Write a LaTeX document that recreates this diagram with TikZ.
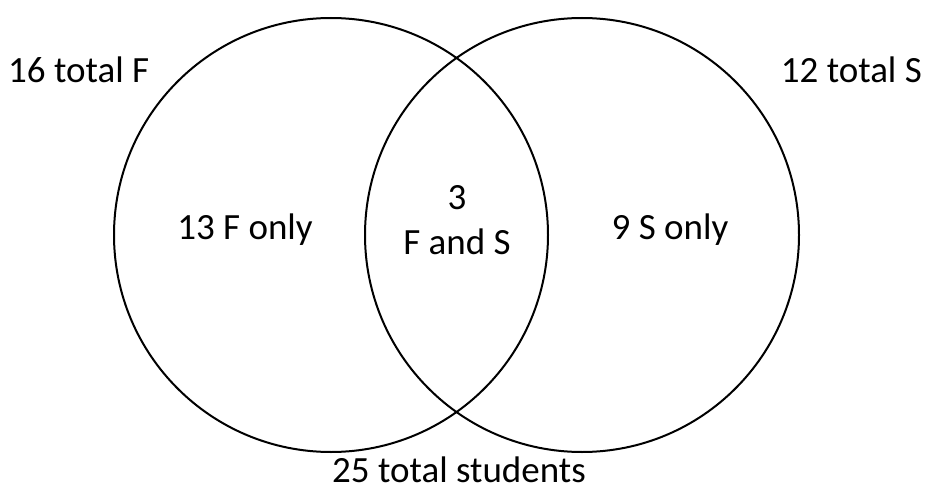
\documentclass[tikz,border=0pt]{standalone}
\usepackage{fontspec}
\setmainfont{Carlito}
\begin{document}
\begin{tikzpicture}[x=1pt,y=-1pt,
  lbl/.style={inner sep=0pt,font=\fontsize{37}{45}\selectfont},
  ring/.style={draw=black,line width=2pt}]
\useasboundingbox (0,0) rectangle (927,495);
\draw[ring] (331,235) circle (217);
\draw[ring] (582,235) circle (217);
\node[lbl,anchor=west] (tf) at (8,70) {16 total F};
\node[lbl,anchor=east] (ts) at (922,70) {12 total S};
\node[lbl] (fo) at (245,230) {13 F only};
\node[lbl,align=center] (fs) at (457,220) {3\\F and S};
\node[lbl] (so) at (670,230) {9 S only};
\node[lbl] (tot) at (459,470) {25 total students};
\end{tikzpicture}
\end{document}
